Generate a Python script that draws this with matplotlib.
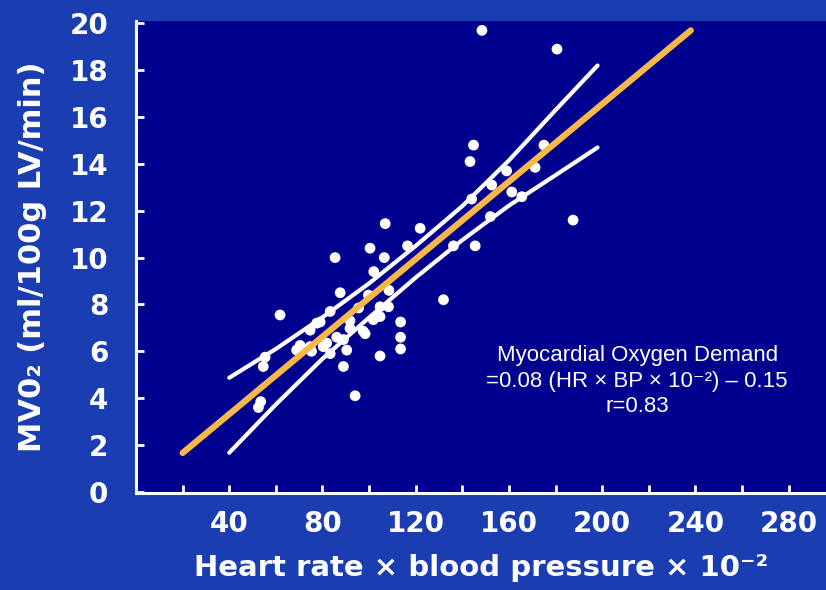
import numpy as np
import matplotlib
matplotlib.use("Agg")
import matplotlib.pyplot as plt
from matplotlib.ticker import FixedLocator

# =============================================================================
# Data
# =============================================================================
hr_bp = [148.4, 180.6, 144.8, 143.3, 187.5, 145.5, 121.9, 159.0, 171.2, 175.0,
         152.6, 161.2, 165.5, 144.0, 152.0, 136.2, 131.9, 106.9, 85.4, 100.4,
         106.5, 116.5, 87.6, 102.0, 108.5, 99.7, 95.5, 104.7, 108.3, 101.8,
         91.8, 104.7, 97.5, 91.8, 89.0, 79.0, 74.7, 113.5, 113.5, 113.5,
         74.7, 81.8, 90.4, 104.7, 89.0, 94.0, 61.8, 54.6, 55.4, 52.5,
         53.5, 70.4, 68.9, 77.5, 75.3, 83.3, 80.3, 86.1, 83.3, 98.3]
mvo2 = [19.7, 18.9, 14.8, 14.1, 11.6, 10.5, 11.25, 13.7, 13.85, 14.8,
        13.1, 12.8, 12.6, 12.5, 11.75, 10.5, 8.2, 11.45, 10.0, 10.4,
        10.0, 10.5, 8.5, 9.4, 8.6, 8.4, 7.85, 7.9, 7.9, 7.35,
        7.3, 7.48, 6.85, 6.98, 6.5, 7.25, 6.9, 7.25, 6.6, 6.1,
        6.2, 6.35, 6.05, 5.8, 5.35, 4.1, 7.55, 5.35, 5.75, 3.6,
        3.85, 6.25, 6.05, 7.2, 6.0, 5.9, 6.2, 6.6, 7.7, 6.75]

# regression line (orange)
fit_x = [20, 238]
fit_y = [1.66, 19.7]

# confidence bands (white)
band_x = [40, 60, 80, 100, 120, 140, 160, 180, 198]
band_upper = [4.87, 6.10, 7.45, 8.90, 10.5, 12.2, 14.15, 16.3, 18.2]
band_lower = [1.67, 3.73, 5.68, 7.44, 9.15, 10.75, 12.22, 13.52, 14.7]

x_labels = [40, 80, 120, 160, 200, 240, 280]
x_minor = [20, 60, 100, 140, 180, 220, 260]
y_labels = list(range(0, 21, 2))

note = "Myocardial Oxygen Demand\n=0.08 (HR × BP × 10⁻²) – 0.15\nr=0.83"

# =============================================================================
# Plot
# =============================================================================
bg_color = "#1a3db2"
panel_color = "#00008e"
orange = "#f7b84a"

fig = plt.figure(figsize=(8.26, 5.90), dpi=100, facecolor=bg_color)
ax = fig.add_axes([136 / 826, 1 - 493 / 590, 690 / 826, 472 / 590])
ax.set_facecolor(panel_color)

ax.plot(band_x, band_upper, color="white", lw=3, solid_capstyle="round", zorder=2)
ax.plot(band_x, band_lower, color="white", lw=3, solid_capstyle="round", zorder=2)
ax.scatter(hr_bp, mvo2, s=60, marker="o", color="white", edgecolors="none", zorder=3)
ax.plot(fit_x, fit_y, color=orange, lw=4.5, solid_capstyle="round", zorder=4)

ax.set_xlim(0, 296)
ax.set_ylim(-0.05, 20.1)

for side in ["top", "right"]:
    ax.spines[side].set_visible(False)
for side in ["left", "bottom"]:
    ax.spines[side].set_color("white")
    ax.spines[side].set_linewidth(2.2)

ax.xaxis.set_major_locator(FixedLocator(x_labels))
ax.xaxis.set_minor_locator(FixedLocator(x_minor))
ax.yaxis.set_major_locator(FixedLocator(y_labels))

ax.tick_params(axis="both", which="both", direction="in", length=6, width=2,
               color="white", labelcolor="white")
ax.tick_params(axis="x", which="major", labelsize=20, pad=12)
ax.tick_params(axis="y", which="major", labelsize=20, pad=20)
for lbl in ax.get_xticklabels() + ax.get_yticklabels():
    lbl.set_fontweight("bold")

ax.set_xlabel("Heart rate × blood pressure × 10⁻²", color="white", fontsize=21,
              fontweight="bold", labelpad=12)
ax.set_ylabel("MV0₂ (ml/100g LV/min)", color="white", fontsize=22,
              fontweight="bold", labelpad=16)

ax.text(215, 4.73, note, color="white", fontsize=16,
        family=["Liberation Sans", "DejaVu Sans"],
        ha="center", va="center", linespacing=1.3)

fig.savefig("out.png", dpi=100, facecolor=bg_color)
